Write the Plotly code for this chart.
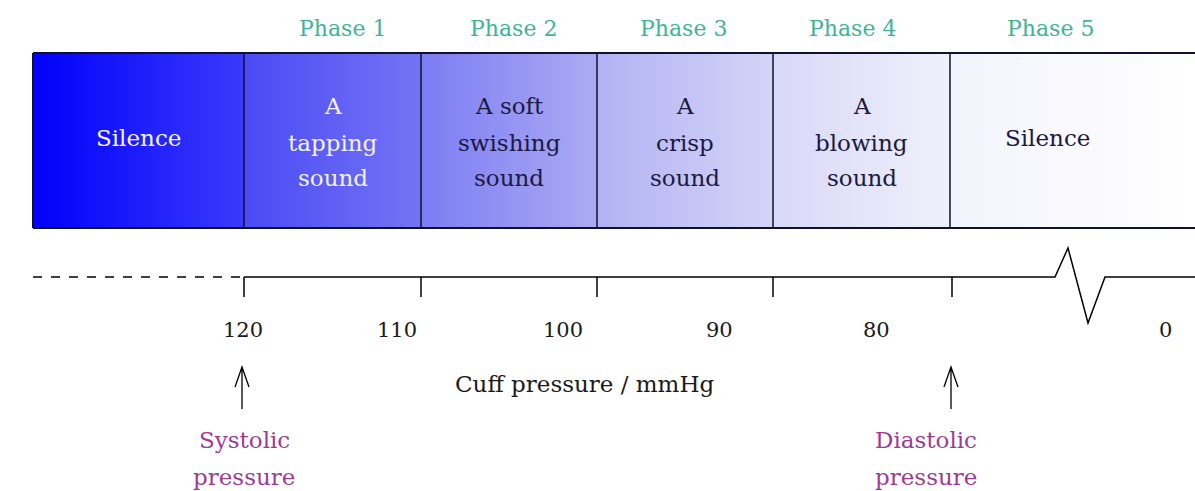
import numpy as np
import plotly.graph_objects as go

# ---- data ----
phase_names = ["Phase 1", "Phase 2", "Phase 3", "Phase 4", "Phase 5"]
phase_label_x = [342, 513, 683, 852, 1050]
sound_lines = [["Silence"], ["A", "tapping", "sound"], ["A soft", "swishing", "sound"],
               ["A", "crisp", "sound"], ["A", "blowing", "sound"], ["Silence"]]
box_edges = [33, 244, 421, 597, 773, 950, 1195]
pressure_labels = ["120", "110", "100", "90", "80", "0"]
pressure_label_x = [243, 397, 563, 719, 876, 1165]
tick_x = [244, 421, 597, 773, 952]
markers = [["Systolic", "pressure"], ["Diastolic", "pressure"]]
marker_x = [242, 951]
marker_text_x = [244, 926]
axis_title = "Cuff pressure / mmHg"

# ---- styles ----
FONT = "DejaVu Serif"
box_colors = [("#0000fb", "#3a3afb"), ("#4a4af6", "#7474f4"), ("#7c7cf4", "#ababf3"),
              ("#b2b2f4", "#d4d4f7"), ("#d8d8f8", "#f0f0fb"), ("#f3f3fd", "#ffffff")]
text_colors = ["#f2f2f8", "#f2f2f8", "#1a1a40", "#1a1a40", "#1a1a40", "#1a1a40"]
BOX_TOP, BOX_BOT = 53, 228
AXIS_Y = 277
LINE_Y3 = [106, 143, 178]

fig = go.Figure()

# gradient fill via heatmap
x0, x1 = box_edges[0], box_edges[-1]
xs = np.arange(x0, x1 + 1, 1.0)
centers = (xs[:-1] + xs[1:]) / 2
z = [list((centers - x0) / (x1 - x0))]
cscale = []
for i, (c0, c1) in enumerate(box_colors):
    a = (box_edges[i] - x0) / (x1 - x0)
    b = (box_edges[i + 1] - x0) / (x1 - x0)
    cscale.append([a, c0])
    cscale.append([b - 1e-6 if i < len(box_colors) - 1 else b, c1])
fig.add_trace(go.Heatmap(x=xs, y=[BOX_TOP, BOX_BOT], z=z, colorscale=cscale,
                         zmin=0, zmax=1, showscale=False, hoverinfo="skip"))

shapes = []
line_col = "#101030"
shapes.append(dict(type="line", x0=box_edges[0], x1=box_edges[-1], y0=BOX_TOP, y1=BOX_TOP,
                   line=dict(color=line_col, width=2)))
shapes.append(dict(type="line", x0=box_edges[0], x1=box_edges[-1], y0=BOX_BOT, y1=BOX_BOT,
                   line=dict(color=line_col, width=2)))
for ex in box_edges[:-1]:
    shapes.append(dict(type="line", x0=ex, x1=ex, y0=BOX_TOP, y1=BOX_BOT,
                       line=dict(color=line_col, width=2 if ex == box_edges[0] else 1.5)))

# axis: dashed part then solid with break zigzag
shapes.append(dict(type="line", x0=33, x1=244, y0=AXIS_Y, y1=AXIS_Y,
                   line=dict(color="black", width=1.5, dash="dash")))
shapes.append(dict(type="path",
                   path=f"M244,{AXIS_Y} L1055,{AXIS_Y} L1068,248 L1088,323 L1105,{AXIS_Y} L1195,{AXIS_Y}",
                   line=dict(color="black", width=1.5)))
for tx in tick_x:
    shapes.append(dict(type="line", x0=tx, x1=tx, y0=AXIS_Y, y1=AXIS_Y + 20,
                       line=dict(color="black", width=1.5)))

# arrows
for mx in marker_x:
    shapes.append(dict(type="path",
                       path=f"M{mx},409 L{mx},367 M{mx-7},387 L{mx},367 L{mx+7},387",
                       line=dict(color="black", width=1.3)))

fig.update_layout(shapes=shapes)

ann = []
for name, px in zip(phase_names, phase_label_x):
    ann.append(dict(x=px, y=28, text=name, showarrow=False,
                    font=dict(family=FONT, size=22, color="#40b496")))
for i, lines in enumerate(sound_lines):
    cx = (box_edges[i] + box_edges[i + 1]) / 2
    if i == len(sound_lines) - 1:
        cx = 1047
    ys = [138] if len(lines) == 1 else LINE_Y3
    for ln, ly in zip(lines, ys):
        ann.append(dict(x=cx, y=ly, text=ln, showarrow=False,
                        font=dict(family=FONT, size=23, color=text_colors[i])))
for lab, lx in zip(pressure_labels, pressure_label_x):
    ann.append(dict(x=lx, y=330, text=lab, showarrow=False,
                    font=dict(family=FONT, size=21, color="#1a1a1a")))
ann.append(dict(x=584, y=384, text=axis_title, showarrow=False,
                font=dict(family=FONT, size=23, color="#1a1a1a")))
for lines, tx in zip(markers, marker_text_x):
    for ln, ly in zip(lines, [440, 477]):
        ann.append(dict(x=tx, y=ly, text=ln, showarrow=False,
                        font=dict(family=FONT, size=23, color="#9e3a96")))
fig.update_layout(annotations=ann)

fig.update_xaxes(range=[0, 1195], visible=False, fixedrange=True)
fig.update_yaxes(range=[491, 0], visible=False, fixedrange=True)
fig.update_layout(width=1195, height=491, margin=dict(l=0, r=0, t=0, b=0),
                  plot_bgcolor="white", paper_bgcolor="white", showlegend=False)

fig.write_html("out.html", config={"displayModeBar": False},
               post_script="document.body.style.margin='0';document.body.style.overflow='hidden';")
